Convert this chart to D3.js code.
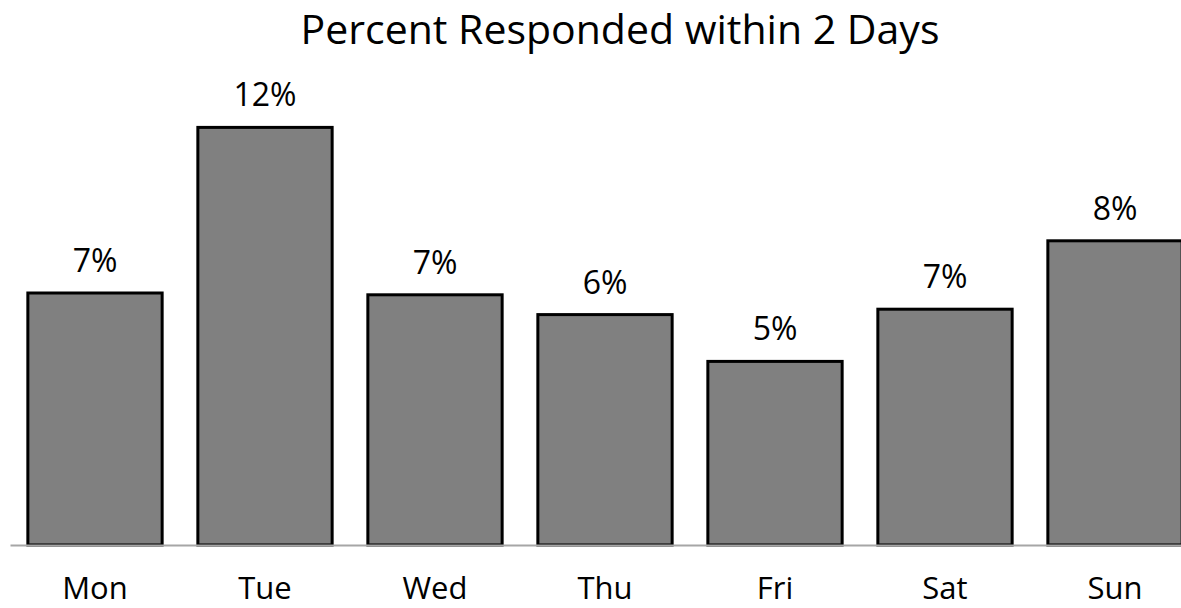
<!DOCTYPE html>
<html>
<head>
<meta charset="utf-8">
<script src="https://cdn.jsdelivr.net/npm/d3@7"></script>
<style>
  html, body { margin: 0; padding: 0; background: #fff; }
  svg { display: block; }
  text { font-family: "Open Sans", sans-serif; fill: #000; }
</style>
</head>
<body>
<svg id="chart" width="1181" height="608"></svg>
<script>
const title = "Percent Responded within 2 Days";
const days = ["Mon", "Tue", "Wed", "Thu", "Fri", "Sat", "Sun"];
const percents = [7.0, 11.6, 6.95, 6.4, 5.1, 6.55, 8.45];

const svg = d3.select("#chart");
const baseY = 545;

const x = d3.scaleBand().domain(days).range([10, 1200]).paddingInner(0.21).paddingOuter(0.105);
const y = d3.scaleLinear().domain([0, 12]).range([baseY, baseY - 12 * 36]);

svg.append("text")
  .attr("x", 620).attr("y", 44)
  .attr("text-anchor", "middle")
  .style("font-size", "41px")
  .text(title);

svg.append("g").selectAll("rect")
  .data(days)
  .join("rect")
  .attr("x", d => x(d))
  .attr("y", (d, i) => y(percents[i]))
  .attr("width", x.bandwidth())
  .attr("height", (d, i) => baseY - y(percents[i]))
  .attr("fill", "#808080")
  .attr("stroke", "#000")
  .attr("stroke-width", 3);

svg.append("g").selectAll("text")
  .data(days)
  .join("text")
  .attr("x", d => x(d) + x.bandwidth() / 2)
  .attr("y", (d, i) => y(percents[i]) - 21)
  .attr("text-anchor", "middle")
  .style("font-size", "32px")
  .text((d, i) => d3.format(".0f")(percents[i]) + "%");

const axis = svg.append("g")
  .attr("transform", `translate(0,${baseY})`)
  .call(d3.axisBottom(x).tickSize(0).tickSizeOuter(0));
axis.select(".domain").attr("stroke", "#a6a6a6").attr("stroke-width", 2);
axis.selectAll(".tick text")
  .attr("y", 54).attr("dy", 0)
  .style("font-size", "31px")
  .style("font-family", "'Open Sans', sans-serif")
  .attr("fill", "#000");
</script>
</body>
</html>
